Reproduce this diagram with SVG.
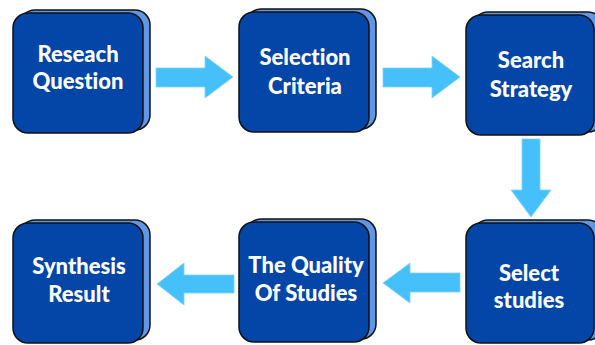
<svg xmlns="http://www.w3.org/2000/svg" width="595" height="345" viewBox="0 0 595 345">
<style>
.back{fill:#5f97e6;stroke:#111;stroke-width:1.5}
.front{fill:#0446a8;stroke:#111;stroke-width:1.5}
.t{fill:#fff;font-family:Lato,"Open Sans",sans-serif;font-weight:900;font-size:22px;text-anchor:middle;font-variant-ligatures:none}
.arr{fill:#45c0fb;stroke:#7fd3fb;stroke-width:0.8}
</style>
<rect width="595" height="345" fill="#fff"/>
<g id="n1">
<rect class="back" x="20" y="10" width="130" height="120" rx="15"/>
<rect class="front" x="13" y="13" width="130" height="120" rx="15"/>
<text class="t" x="78" y="62">Reseach</text>
<text class="t" x="78" y="89">Question</text>
</g>
<g id="n2">
<rect class="back" x="246" y="9" width="130" height="120" rx="15"/>
<rect class="front" x="239" y="12" width="130" height="120" rx="15"/>
<text class="t" x="305" y="65">Selection</text>
<text class="t" x="305" y="94">Criteria</text>
</g>
<g id="n3">
<rect class="back" x="473" y="12" width="130" height="120" rx="15"/>
<rect class="front" x="466" y="15" width="128" height="120" rx="15"/>
<text class="t" x="531" y="68">Search</text>
<text class="t" x="531" y="97">Strategy</text>
</g>
<g id="n4">
<rect class="back" x="20" y="220" width="130" height="120" rx="15"/>
<rect class="front" x="13" y="223" width="130" height="120" rx="15"/>
<text class="t" x="79" y="274">Synthesis</text>
<text class="t" x="79" y="302">Result</text>
</g>
<g id="n5">
<rect class="back" x="246" y="219" width="130" height="120" rx="15"/>
<rect class="front" x="239" y="222" width="130" height="120" rx="15"/>
<text class="t" x="306" y="273">The Quality</text>
<text class="t" x="306" y="301">Of Studies</text>
</g>
<g id="n6">
<rect class="back" x="473" y="220" width="130" height="120" rx="15"/>
<rect class="front" x="466" y="223" width="128" height="120" rx="15"/>
<text class="t" x="529" y="281">Select</text>
<text class="t" x="529" y="308">studies</text>
</g>
<g id="connectors">
<polygon class="arr" points="156,68 205,68 205,56 233,77 205,98 205,87 156,87"/>
<polygon class="arr" points="383,68 432,68 432,56 460,77 432,98 432,87 383,87"/>
<polygon class="arr" points="522,139 540,139 540,190 551,190 531,217 511,190 522,190"/>
<polygon class="arr" points="460,273 410,273 410,263 383,283 410,303 410,292 460,292"/>
<polygon class="arr" points="234,275 184,275 184,263 157,284 184,305 184,293 234,293"/>
</g>
</svg>
